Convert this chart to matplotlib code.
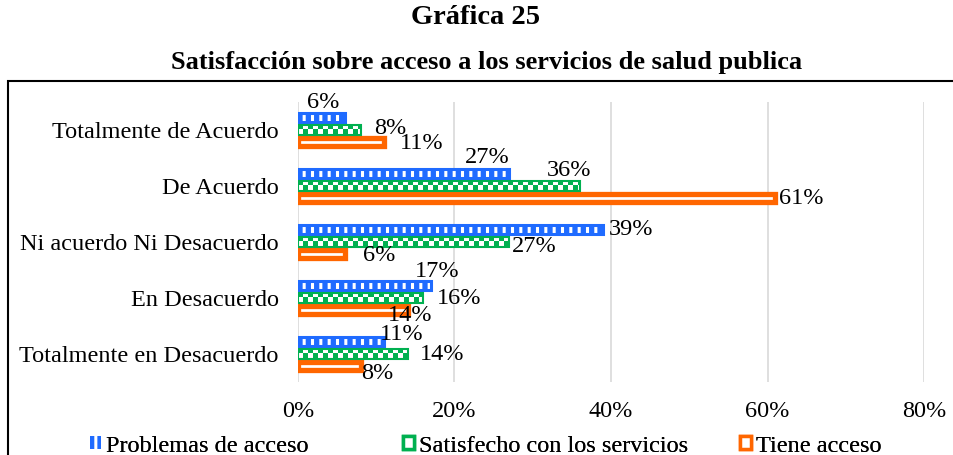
import numpy as np
import matplotlib
matplotlib.use("Agg")
import matplotlib.pyplot as plt
from matplotlib.patches import Patch, Rectangle

plt.rcParams['font.family'] = ['Liberation Serif', 'DejaVu Serif']
plt.rcParams['hatch.linewidth'] = 2.2

categories = ["Totalmente de Acuerdo", "De Acuerdo", "Ni acuerdo Ni Desacuerdo",
              "En Desacuerdo", "Totalmente en Desacuerdo"]
problemas = [0.06, 0.27, 0.39, 0.17, 0.11]
satisfecho = [0.08, 0.36, 0.27, 0.16, 0.14]
tiene = [0.11, 0.61, 0.06, 0.14, 0.08]
series_names = ["Problemas de acceso", "Satisfecho con los servicios", "Tiene acceso"]
x_ticks = [0, 0.2, 0.4, 0.6, 0.8]

# label offsets in pixels (dx, dy) from the bar end, mimic Excel placement
lbl_off = [
    [(-38, 15), (-44, 16), (6, 0), (-16, 14), (-4, 7)],
    [(14, 2), (-33, 15), (3, -4), (14, -1), (12, -1)],
    [(16, -1), (4, 0), (18, -1), (-20, -5), (1, -7)],
]
# left edge of each legend entry (pixels)
legend_x = [90, 403, 740]

BLUE = "#1f6bff"
GREEN = "#00b050"
ORANGE = "#ff6600"
FS = 17.5

fig = plt.figure(figsize=(9.54, 4.55), dpi=100)
ax = fig.add_axes([298 / 954, 1 - 382 / 455, 626 / 954, 280 / 455])

y = np.arange(len(categories))
slot = 0.22

# blue: white vertical stripes
ax.barh(y - slot, problemas, height=0.16, color=BLUE, edgecolor="white",
        hatch="||", linewidth=0, zorder=3)
ax.barh(y - slot, problemas, height=0.16, fill=False, edgecolor=BLUE,
        linewidth=2.2, zorder=4)

# green: checkerboard
cw = 5 / 782
gbars = ax.barh(y, satisfecho, height=0.18, color=GREEN, linewidth=0, zorder=3)
for yi, v, b in zip(y, satisfecho, gbars):
    n = int(np.ceil(v / cw)) + 1
    board = np.indices((2, n)).sum(axis=0) % 2
    img = ax.imshow(board, cmap=matplotlib.colors.ListedColormap([GREEN, "white"]),
                    extent=(0, n * cw, yi + 0.075, yi - 0.075), aspect="auto",
                    interpolation="nearest", zorder=3.5)
    img.set_clip_path(b)
ax.barh(y, satisfecho, height=0.18, fill=False, edgecolor=GREEN,
        linewidth=1.5, zorder=4)

# orange: thick outline, thin white core
ax.barh(y + slot, tiene, height=0.145, color="white", edgecolor=ORANGE,
        linewidth=3.8, zorder=3)

for k, vals in enumerate([problemas, satisfecho, tiene]):
    for i, v in enumerate(vals):
        dx, dy = lbl_off[k][i]
        ax.annotate(f"{round(v * 100):.0f}%", (v, y[i] + (k - 1) * slot),
                    xytext=(dx, dy), textcoords="offset pixels",
                    ha="left", va="center", fontsize=FS, zorder=5)

ax.set_xlim(0, 0.8)
ax.set_ylim(4.5, -0.5)
ax.set_xticks(x_ticks)
ax.set_xticklabels([f"{int(t * 100)}%" for t in x_ticks], fontsize=FS)
ax.set_yticks(y)
ax.set_yticklabels(categories, fontsize=FS)
ax.tick_params(length=0)
ax.tick_params(axis="x", pad=14)
ax.tick_params(axis="y", pad=14)
ax.grid(axis="x", color="#d9d9d9", linewidth=1.2, zorder=0)
ax.set_axisbelow(True)
for s in ax.spines.values():
    s.set_visible(False)

fig.text(476 / 954, 1 - 18 / 455, "Gráfica 25", ha="center", va="center",
         fontsize=20.5, fontweight="bold")
fig.text(487 / 954, 1 - 62 / 455,
         "Satisfacción sobre acceso a los servicios de salud publica",
         ha="center", va="center", fontsize=19, fontweight="bold")

fig.add_artist(Rectangle((8 / 954, -0.2), 1.2, 0.2 + 1 - 81 / 455,
                         transform=fig.transFigure, fill=False,
                         edgecolor="black", linewidth=1.5))

handles = [
    Patch(facecolor=BLUE, edgecolor="white", hatch="||", linewidth=0),
    Patch(facecolor="white", edgecolor=GREEN, linewidth=2.5),
    Patch(facecolor="white", edgecolor=ORANGE, linewidth=2.5),
]
for h, name, lx in zip(handles, series_names, legend_x):
    leg = fig.legend([h], [name], loc="center left",
                     bbox_to_anchor=(lx / 954, 1 - 446 / 455), frameon=False,
                     fontsize=FS, handlelength=0.45, handleheight=0.45,
                     handletextpad=0.2, borderpad=0, borderaxespad=0)
    fig.add_artist(leg)

fig.savefig("out.png", dpi=100)
